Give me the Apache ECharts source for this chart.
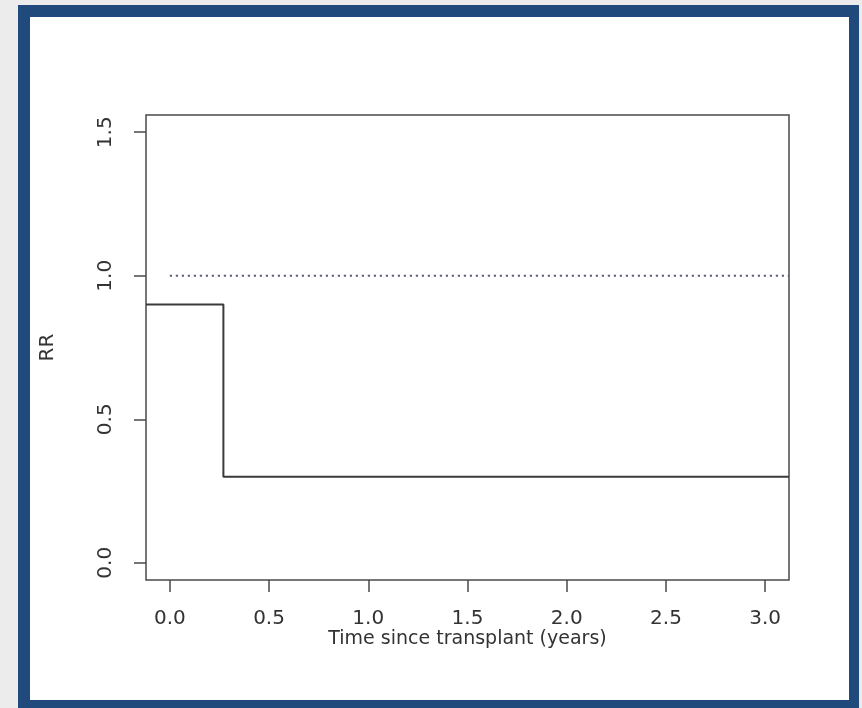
<!DOCTYPE html>
<html>
<head>
<meta charset="utf-8">
<script src="https://cdn.jsdelivr.net/npm/echarts@6/dist/echarts.min.js"></script>
<style>
html,body{margin:0;padding:0;background:#ececec;width:862px;height:708px;overflow:hidden;}
#frame{position:absolute;left:18px;top:5px;width:819px;height:683px;border-style:solid;border-color:#1f4a7b;border-width:12px 10px 12px 12px;background:#fff;box-sizing:content-box;}
#chart{position:absolute;left:0;top:0;width:862px;height:708px;}
</style>
</head>
<body>
<div id="frame"></div>
<div id="chart"></div>
<script>
// Data
const xTicks = [0.0, 0.5, 1.0, 1.5, 2.0, 2.5, 3.0];
const yTicks = [0.0, 0.5, 1.0, 1.5];
const stepTimes = [-0.12, 0.27, 3.12];
const stepRR = [0.9, 0.3, 0.3];
const refTimes = [0.0, 3.12];
const refRR = [1.0, 1.0];
const xTitle = 'Time since transplant (years)';
const yTitle = 'RR';

const chart = echarts.init(document.getElementById('chart'), null, {renderer: 'canvas'});
const font = 'DejaVu Sans';
const txt = '#333333';
const axisCol = '#4a4a4a';

chart.setOption({
  animation: false,
  backgroundColor: 'transparent',
  grid: {left: 146, top: 115, right: 73, bottom: 128, show: true, borderColor: axisCol, borderWidth: 1.5, backgroundColor: 'transparent'},
  xAxis: {
    type: 'value', min: -0.12, max: 3.12,
    name: xTitle, nameLocation: 'middle', nameGap: 50, nameMoveOverlap: false,
    nameTextStyle: {fontFamily: font, fontSize: 19, color: txt},
    axisLine: {show: false, onZero: false},
    axisTick: {show: true, length: 12, lineStyle: {color: axisCol, width: 1.5}, customValues: xTicks},
    axisLabel: {fontFamily: font, fontSize: 20, color: txt, margin: 29, customValues: xTicks, formatter: v => v.toFixed(1)},
    splitLine: {show: false}
  },
  yAxis: {
    type: 'value', min: -0.06, max: 1.56,
    name: yTitle, nameLocation: 'middle', nameGap: 88, nameRotate: 90, nameMoveOverlap: false,
    nameTextStyle: {fontFamily: font, fontSize: 20, color: txt},
    axisLine: {show: false, onZero: false},
    axisTick: {show: true, length: 12, lineStyle: {color: axisCol, width: 1.5}, customValues: yTicks},
    axisLabel: {fontFamily: font, fontSize: 20, color: txt, margin: 30, rotate: 90, customValues: yTicks, formatter: v => v.toFixed(1)},
    splitLine: {show: false}
  },
  series: [
    {
      type: 'line', step: 'end', symbol: 'none',
      data: stepTimes.map((t, i) => [t, stepRR[i]]),
      lineStyle: {color: '#3a3a3a', width: 2}
    },
    {
      type: 'line', symbol: 'none',
      data: refTimes.map((t, i) => [t, refRR[i]]),
      lineStyle: {color: '#5e5e80', width: 2.2, type: [2.2, 3.8]}
    }
  ]
});
</script>
</body>
</html>
